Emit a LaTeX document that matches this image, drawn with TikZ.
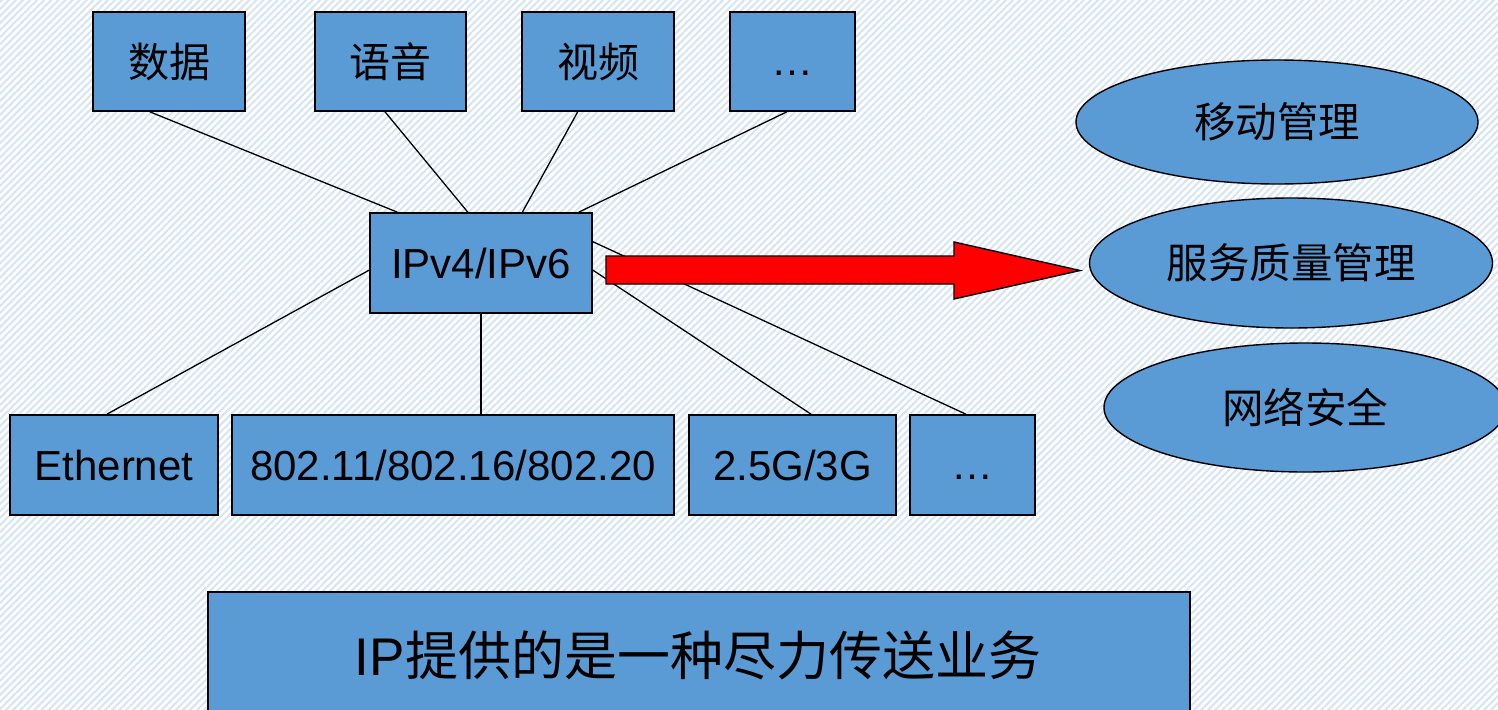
\documentclass[tikz,border=0pt]{standalone}
\usepackage{fontspec}
\setmainfont{Liberation Sans}
\newfontfamily\cjk{Noto Sans CJK SC}
\usetikzlibrary{calc,patterns.meta,shapes.geometric}
\definecolor{boxblue}{HTML}{5B9BD5}
\definecolor{stripe}{HTML}{D6E4F4}
\begin{document}
\begin{tikzpicture}[x=1pt,y=-1pt,
  box/.style={draw=black,line width=1.6pt,fill=boxblue,inner sep=0pt,font=\fontsize{42}{48}\selectfont},
  oval/.style={draw=black,line width=1.4pt,fill=boxblue,ellipse,inner sep=0pt,font=\cjk\fontsize{41.5}{46}\selectfont},
  link/.style={draw=black,line width=1.3pt}]
\useasboundingbox (0,0) rectangle (1498,709);
\clip (0,0) rectangle (1498,709);
\fill[white] (0,0) rectangle (1498,709);
\fill[pattern={Lines[angle=45,distance=5pt,line width=2pt]},pattern color=stripe] (0,0) rectangle (1498,709);
% top boxes
\node[box,minimum width=152pt,minimum height=99pt] (data) at (169,61.5) {\cjk\fontsize{41}{46}\selectfont 数据};
\node[box,minimum width=151pt,minimum height=99pt] (voice) at (390.5,61.5) {\cjk\fontsize{41}{46}\selectfont 语音};
\node[box,minimum width=152pt,minimum height=99pt] (video) at (598,61.5) {\cjk\fontsize{41}{46}\selectfont 视频};
\node[box,minimum width=125pt,minimum height=99pt] (tdots) at (792.5,61.5) {\vphantom{A}…};
% ip
\node[box,minimum width=222pt,minimum height=100pt] (ip) at (481,263) {IPv4/IPv6};
% bottom boxes
\node[box,minimum width=208pt,minimum height=100pt] (eth) at (114,465) {Ethernet};
\node[box,minimum width=442pt,minimum height=100pt] (wifi) at (453,465) {802.11/802.16/802.20};
\node[box,minimum width=207pt,minimum height=100pt] (g3) at (792.5,465) {2.5G/3G};
\node[box,minimum width=125pt,minimum height=100pt] (bdots) at (972.5,465) {\vphantom{A}…};
% big bottom box
\node[box,minimum width=982pt,minimum height=140pt,anchor=north west] (best) at (207,591) {};
\node[font=\fontsize{53}{60}\selectfont,inner sep=0pt] (besttxt) at (698,655) {IP{\cjk 提供的是一种尽力传送业务}};
% ellipses
\node[oval,minimum width=402pt,minimum height=124pt] (mob) at (1277,122) {移动管理};
\node[oval,minimum width=403pt,minimum height=130pt] (qos) at (1291,263) {服务质量管理};
\node[oval,minimum width=402pt,minimum height=129pt] (sec) at (1305,407.5) {网络安全};
% connectors top
\draw[link] ($(data.south west)!0.375!(data.south east)$) -- ($(ip.north west)!0.126!(ip.north east)$);
\draw[link] ($(voice.south west)!0.464!(voice.south east)$) -- ($(ip.north west)!0.441!(ip.north east)$);
\draw[link] ($(video.south west)!0.368!(video.south east)$) -- ($(ip.north west)!0.685!(ip.north east)$);
\draw[link] ($(tdots.south west)!0.456!(tdots.south east)$) -- ($(ip.north west)!0.937!(ip.north east)$);
% connectors bottom
\draw[link] ($(eth.north west)!0.466!(eth.north east)$) -- ($(ip.north west)!0.57!(ip.south west)$);
\draw[link] (ip.south) -- (ip.south |- wifi.north);
\draw[link] ($(g3.north west)!0.589!(g3.north east)$) -- ($(ip.north east)!0.57!(ip.south east)$);
\draw[link] ($(bdots.north west)!0.448!(bdots.north east)$) -- ($(ip.north east)!0.29!(ip.south east)$);
% red arrow
\draw[line width=1.4pt,fill=red,line join=miter]
  (606,256) -- (954,256) -- (954,242) -- (1080,270.5) -- (954,299) -- (954,284) -- (606,284) -- cycle;
\end{tikzpicture}
\end{document}
